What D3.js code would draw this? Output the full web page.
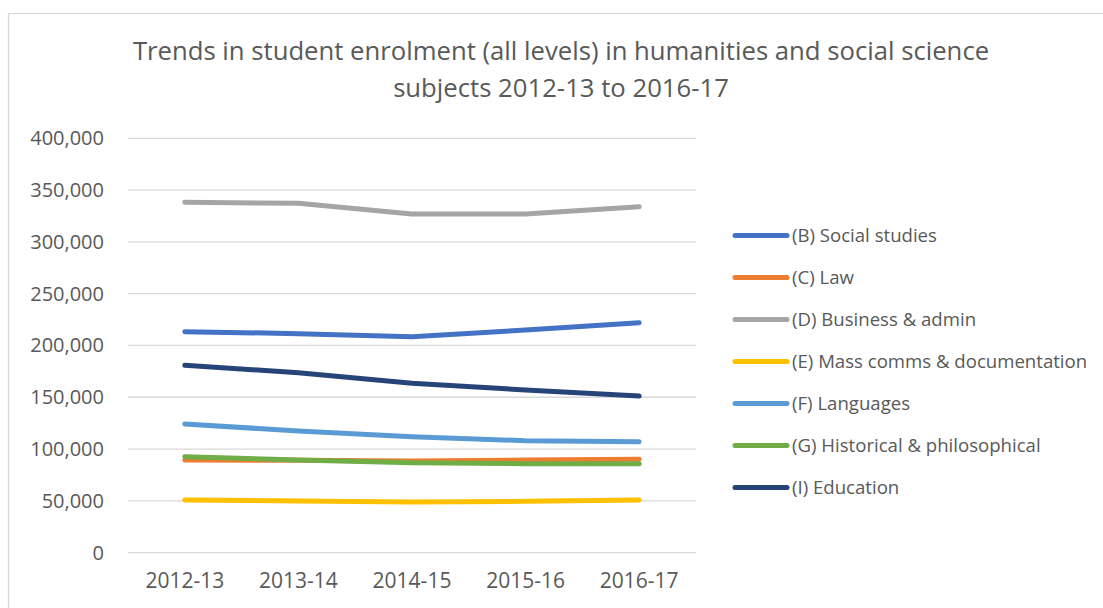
<!DOCTYPE html>
<head>
<meta charset="utf-8">
<title>Student enrolment trends</title>
<script src="https://d3js.org/d3.v7.min.js"></script>
<style>
	body { margin: 0; background: #fff; font-family: "Open Sans", sans-serif; }
	.grid line { stroke: #d9d9d9; stroke-width: 1.3; }
	.tick text { fill: #595959; }
</style>
</head>
<body>
<div id="chart"></div>
<script>
	// data
	var years = ["2012-13", "2013-14", "2014-15", "2015-16", "2016-17"];
	var names = ["(B) Social studies", "(C) Law", "(D) Business & admin",
		"(E) Mass comms & documentation", "(F) Languages",
		"(G) Historical & philosophical", "(I) Education"];
	var socialStudies = [213300, 211400, 208500, 214900, 222000];
	var law = [89400, 89100, 88400, 89400, 90100];
	var business = [338200, 337200, 326900, 326900, 334000];
	var massComms = [50700, 49900, 48900, 49500, 50800];
	var languages = [124200, 117400, 111900, 108000, 107100];
	var historical = [92600, 89500, 86800, 85800, 85800];
	var education = [180800, 173700, 163400, 157000, 151200];
	var yTicks = [0, 50000, 100000, 150000, 200000, 250000, 300000, 350000, 400000];
	var colors = ["#4472c4", "#ed7d31", "#a5a5a5", "#ffc000", "#5b9bd5", "#70ad47", "#264478"];

	var series = [socialStudies, law, business, massComms, languages, historical, education];

	var W = 1103, H = 608;
	var plot = { left: 128, right: 696, top: 138.3, bottom: 552.6 };

	var svg = d3.select("#chart").append("svg")
		.attr("width", W)
		.attr("height", H);

	// chart frame
	svg.append("rect")
		.attr("x", 8.5).attr("y", 13.5)
		.attr("width", W + 20).attr("height", H + 20)
		.attr("fill", "none").attr("stroke", "#d9d9d9").attr("stroke-width", 1.3);

	var x = d3.scaleBand().domain(years).range([plot.left, plot.right]);
	var y = d3.scaleLinear().domain([0, 400000]).range([plot.bottom, plot.top]);

	svg.append("g")
		.attr("class", "grid")
		.selectAll("line")
		.data(yTicks)
		.enter().append("line")
		.attr("x1", plot.left).attr("x2", plot.right)
		.attr("y1", function (d) { return y(d); })
		.attr("y2", function (d) { return y(d); });

	var yAxis = svg.append("g")
		.attr("transform", "translate(" + (plot.left - 22) + ",0)")
		.call(d3.axisLeft(y).tickValues(yTicks).tickSize(0).tickPadding(2).tickFormat(d3.format(",")));
	yAxis.select(".domain").remove();
	yAxis.selectAll("text").style("font-size", "20px").style("font-family", "Open Sans");

	var xAxis = svg.append("g")
		.attr("transform", "translate(0," + plot.bottom + ")")
		.call(d3.axisBottom(x).tickSize(0).tickPadding(20));
	xAxis.select(".domain").remove();
	xAxis.selectAll("text").style("font-size", "21px").style("font-family", "Open Sans");

	var line = d3.line()
		.x(function (d, i) { return x(years[i]) + x.bandwidth() / 2; })
		.y(function (d) { return y(d); });

	svg.append("g").selectAll("path")
		.data(series)
		.enter().append("path")
		.attr("d", line)
		.attr("fill", "none")
		.attr("stroke", function (d, i) { return colors[i]; })
		.attr("stroke-width", 5)
		.attr("stroke-linecap", "round")
		.attr("stroke-linejoin", "round");

	// title
	var title = svg.append("text")
		.attr("text-anchor", "middle")
		.attr("fill", "#595959")
		.style("font-size", "25.7px");
	title.append("tspan").attr("x", 561).attr("y", 60)
		.text("Trends in student enrolment (all levels) in humanities and social science");
	title.append("tspan").attr("x", 561).attr("y", 97)
		.text("subjects 2012-13 to 2016-17");

	// legend
	var legend = svg.append("g").selectAll("g")
		.data(names)
		.enter().append("g")
		.attr("transform", function (d, i) { return "translate(735," + (235.5 + i * 42) + ")"; });
	legend.append("line")
		.attr("x1", 0).attr("x2", 52)
		.attr("stroke", function (d, i) { return colors[i]; })
		.attr("stroke-width", 5)
		.attr("stroke-linecap", "round");
	legend.append("text")
		.attr("x", 57).attr("y", 6.5)
		.attr("fill", "#595959")
		.style("font-size", "18.6px")
		.text(function (d) { return d; });
</script>
</body>
